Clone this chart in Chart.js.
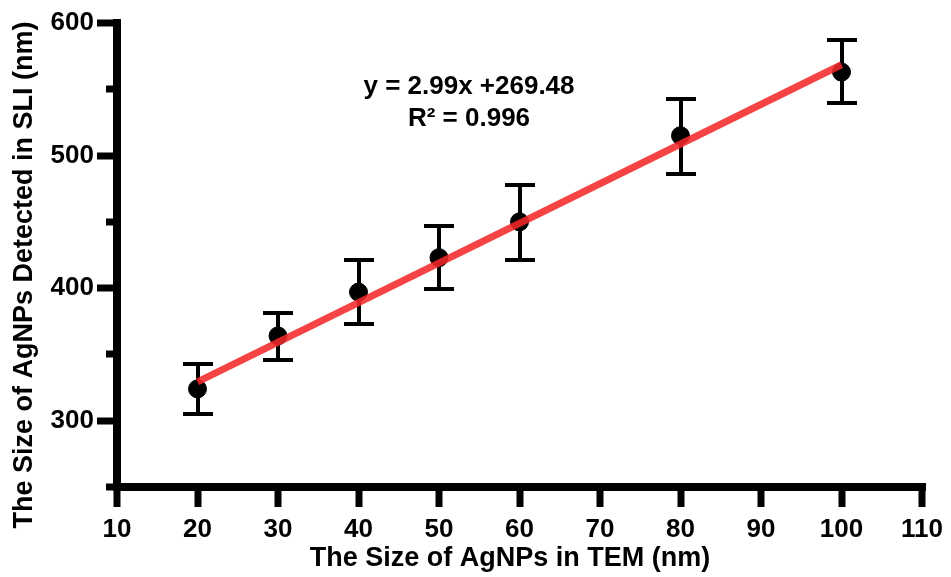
<!DOCTYPE html>
<html>
<head>
<meta charset="utf-8">
<script src="https://cdn.jsdelivr.net/npm/chart.js@4"></script>
<style>
  html, body { margin: 0; padding: 0; background: #fff; }
  #wrap { width: 951px; height: 577px; }
</style>
</head>
<body>
<div id="wrap"><canvas id="myChart" width="951" height="577"></canvas></div>
<script>
// data
var temSize  = [20, 30, 40, 50, 60, 80, 100];
var sliSize  = [324, 364, 397, 423, 450, 515, 563];
var sliUpper = [343, 381, 421, 447, 478, 543, 587];
var sliLower = [305, 346, 373, 399, 421, 486, 540];

// fitted line end points
var fitX = [20, 100];
var fitY = [329.3, 568.5];
var fitText = ['y = 2.99x +269.48', 'R\u00b2 = 0.996'];

var xTicks = [10, 20, 30, 40, 50, 60, 70, 80, 90, 100, 110];
var yTicks = [300, 400, 500, 600];
var yMinorTicks = [250, 350, 450, 550];

var xTitle = 'The Size of AgNPs in TEM (nm)';
var yTitle = 'The Size of AgNPs Detected in SLI (nm)';

var FONT = '"Liberation Sans", Arial, sans-serif';

var errorBars = {
    id: 'errorBars',
    beforeDatasetsDraw: function (chart) {
        var ctx = chart.ctx, x = chart.scales.x, y = chart.scales.y;
        ctx.save();
        ctx.fillStyle = '#000';
        for (var i = 0; i < temSize.length; i++) {
            var px = Math.round(x.getPixelForValue(temSize[i]));
            var top = Math.round(y.getPixelForValue(sliUpper[i]));
            var bot = Math.round(y.getPixelForValue(sliLower[i]));
            ctx.fillRect(px - 2, top, 4, bot - top);
            ctx.fillRect(px - 15, top - 2, 30, 4);
            ctx.fillRect(px - 15, bot - 2, 30, 4);
        }
        ctx.restore();
    }
};

// thick axes, ticks, titles and the fit equation
var axesAndText = {
    id: 'axesAndText',
    afterDraw: function (chart) {
        var ctx = chart.ctx, x = chart.scales.x, y = chart.scales.y;
        var a = chart.chartArea;
        var L = Math.round(a.left), B = Math.round(a.bottom);
        ctx.save();
        ctx.fillStyle = '#000';

        // axis lines
        ctx.fillRect(L - 4, Math.round(a.top) - 4, 8, B - a.top + 8);
        ctx.fillRect(L - 4, B - 4, a.right - L + 8, 8);

        // major ticks
        xTicks.forEach(function (v) {
            var px = Math.round(x.getPixelForValue(v));
            ctx.fillRect(px - 3.5, B, 7, 20);
        });
        yTicks.forEach(function (v) {
            var py = Math.round(y.getPixelForValue(v));
            ctx.fillRect(L - 20, py - 3.5, 20, 7);
        });
        // minor ticks on y
        yMinorTicks.forEach(function (v) {
            var py = Math.round(y.getPixelForValue(v));
            ctx.fillRect(L - 11, py - 3.5, 11, 7);
        });

        // titles
        ctx.font = 'bold 27px ' + FONT;
        ctx.textAlign = 'center';
        ctx.textBaseline = 'middle';
        ctx.fillText(xTitle, 510, 559);
        ctx.save();
        ctx.translate(25, 275);
        ctx.rotate(-Math.PI / 2);
        ctx.fillText(yTitle, 0, 0);
        ctx.restore();

        // equation text
        ctx.font = 'bold 26px ' + FONT;
        ctx.fillText(fitText[0], 469, 87);
        ctx.fillText(fitText[1], 469, 119);
        ctx.restore();
    }
};

var ctx = document.getElementById('myChart').getContext('2d');
var myChart = new Chart(ctx, {
    type: 'scatter',
    data: {
        datasets: [{
            type: 'line',
            label: 'fit',
            data: fitX.map(function (v, i) { return { x: v, y: fitY[i] }; }),
            borderColor: 'rgba(245, 40, 40, 0.87)',
            borderWidth: 7,
            pointRadius: 0,
            fill: false,
            order: 0
        }, {
            label: 'SLI',
            data: temSize.map(function (v, i) { return { x: v, y: sliSize[i] }; }),
            backgroundColor: '#000',
            borderColor: '#000',
            pointRadius: 9,
            order: 1
        }]
    },
    options: {
        responsive: false,
        animation: false,
        layout: { padding: { top: 23, right: 29, left: 0, bottom: 0 } },
        plugins: {
            legend: { display: false },
            tooltip: { enabled: false }
        },
        scales: {
            x: {
                type: 'linear',
                min: 10, max: 110,
                afterBuildTicks: function (s) { s.ticks = xTicks.map(function (v) { return { value: v }; }); },
                afterFit: function (s) { s.height = 90; },
                grid: { display: false, drawTicks: true, tickLength: 20 },
                border: { display: false },
                ticks: { color: '#000', font: { family: FONT, size: 26, weight: 'bold' }, padding: 7, maxRotation: 0 }
            },
            y: {
                min: 250, max: 600,
                afterBuildTicks: function (s) { s.ticks = yTicks.map(function (v) { return { value: v }; }); },
                afterFit: function (s) { s.width = 117; },
                grid: { display: false, drawTicks: true, tickLength: 20 },
                border: { display: false },
                ticks: { color: '#000', font: { family: FONT, size: 26, weight: 'bold' }, padding: 3 }
            }
        }
    },
    plugins: [errorBars, axesAndText]
});
</script>
</body>
</html>
